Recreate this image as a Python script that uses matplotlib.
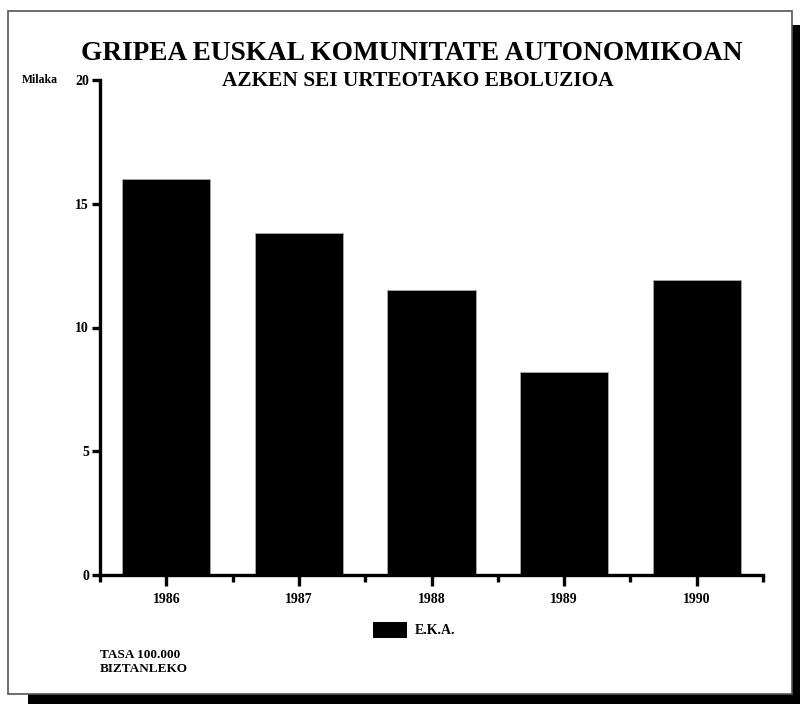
import matplotlib
matplotlib.use("Agg")
import matplotlib.pyplot as plt
from matplotlib.patches import Rectangle
import numpy as np

# datos
years = ["1986", "1987", "1988", "1989", "1990"]
eka = [16.0, 13.8, 11.5, 8.2, 11.9]
yticks = [0, 5, 10, 15, 20]

plt.rcParams["font.family"] = ["Liberation Serif", "DejaVu Serif"]
plt.rcParams["font.weight"] = "bold"

fig = plt.figure(figsize=(8, 7.04), dpi=100)
W, H = 800, 704

# sombra y marco
fig.add_artist(Rectangle((28 / W, 0), 1 - 28 / W, 1 - 25 / H, transform=fig.transFigure,
                         facecolor="black", edgecolor="none", zorder=0))
fig.add_artist(Rectangle((8 / W, 1 - 694 / H), 784 / W, 683 / H, transform=fig.transFigure,
                         facecolor="white", edgecolor="#555555", linewidth=1.2, zorder=1))

ax = fig.add_axes([100 / W, 1 - 575 / H, 663 / W, 495 / H], zorder=2)
ax.patch.set_alpha(0)

x = np.arange(len(years))
ax.bar(x, eka, width=0.665, color="black", edgecolor="#aaaaaa", linewidth=0.6, label="E.K.A.")

ax.set_xlim(-0.5, 4.5)
ax.set_ylim(0, 20)
for s in ["top", "right"]:
    ax.spines[s].set_visible(False)
for s in ["left", "bottom"]:
    ax.spines[s].set_linewidth(2.4)
ax.spines["bottom"].set_capstyle("projecting")

ax.set_yticks(yticks)
ax.set_yticklabels([str(v) for v in yticks], fontsize=10, fontweight="bold")
ax.tick_params(axis="y", length=6, width=2.4, pad=2)

ax.set_xticks(x)
ax.set_xticklabels(years, fontsize=10, fontweight="bold")
ax.set_xticks(np.arange(-0.5, 5, 1), minor=True)
ax.tick_params(axis="x", which="major", length=8, width=2.4, pad=5)
ax.tick_params(axis="x", which="minor", length=5, width=2.4)

# titulos
fig.text(412 / W, 1 - 54 / H, "GRIPEA EUSKAL KOMUNITATE AUTONOMIKOAN", ha="center", va="center",
         fontsize=19.7, fontweight="bold", zorder=3)
fig.text(418 / W, 1 - 81 / H, "AZKEN SEI URTEOTAKO EBOLUZIOA", ha="center", va="center",
         fontsize=15.4, fontweight="bold", zorder=3)
fig.text(22 / W, 1 - 80 / H, "Milaka", ha="left", va="center", fontsize=8.5, fontweight="bold", zorder=3)

# leyenda
fig.add_artist(Rectangle((373 / W, 1 - 638 / H), 34 / W, 16 / H, transform=fig.transFigure,
                         facecolor="black", edgecolor="none", zorder=3))
fig.text(415 / W, 1 - 630 / H, "E.K.A.", ha="left", va="center", fontsize=10, fontweight="bold", zorder=3)

fig.text(100 / W, 1 - 655 / H, "TASA 100.000", ha="left", va="center", fontsize=9.5, fontweight="bold", zorder=3)
fig.text(100 / W, 1 - 669 / H, "BIZTANLEKO", ha="left", va="center", fontsize=9.5, fontweight="bold", zorder=3)

fig.savefig("out.png", dpi=100)
